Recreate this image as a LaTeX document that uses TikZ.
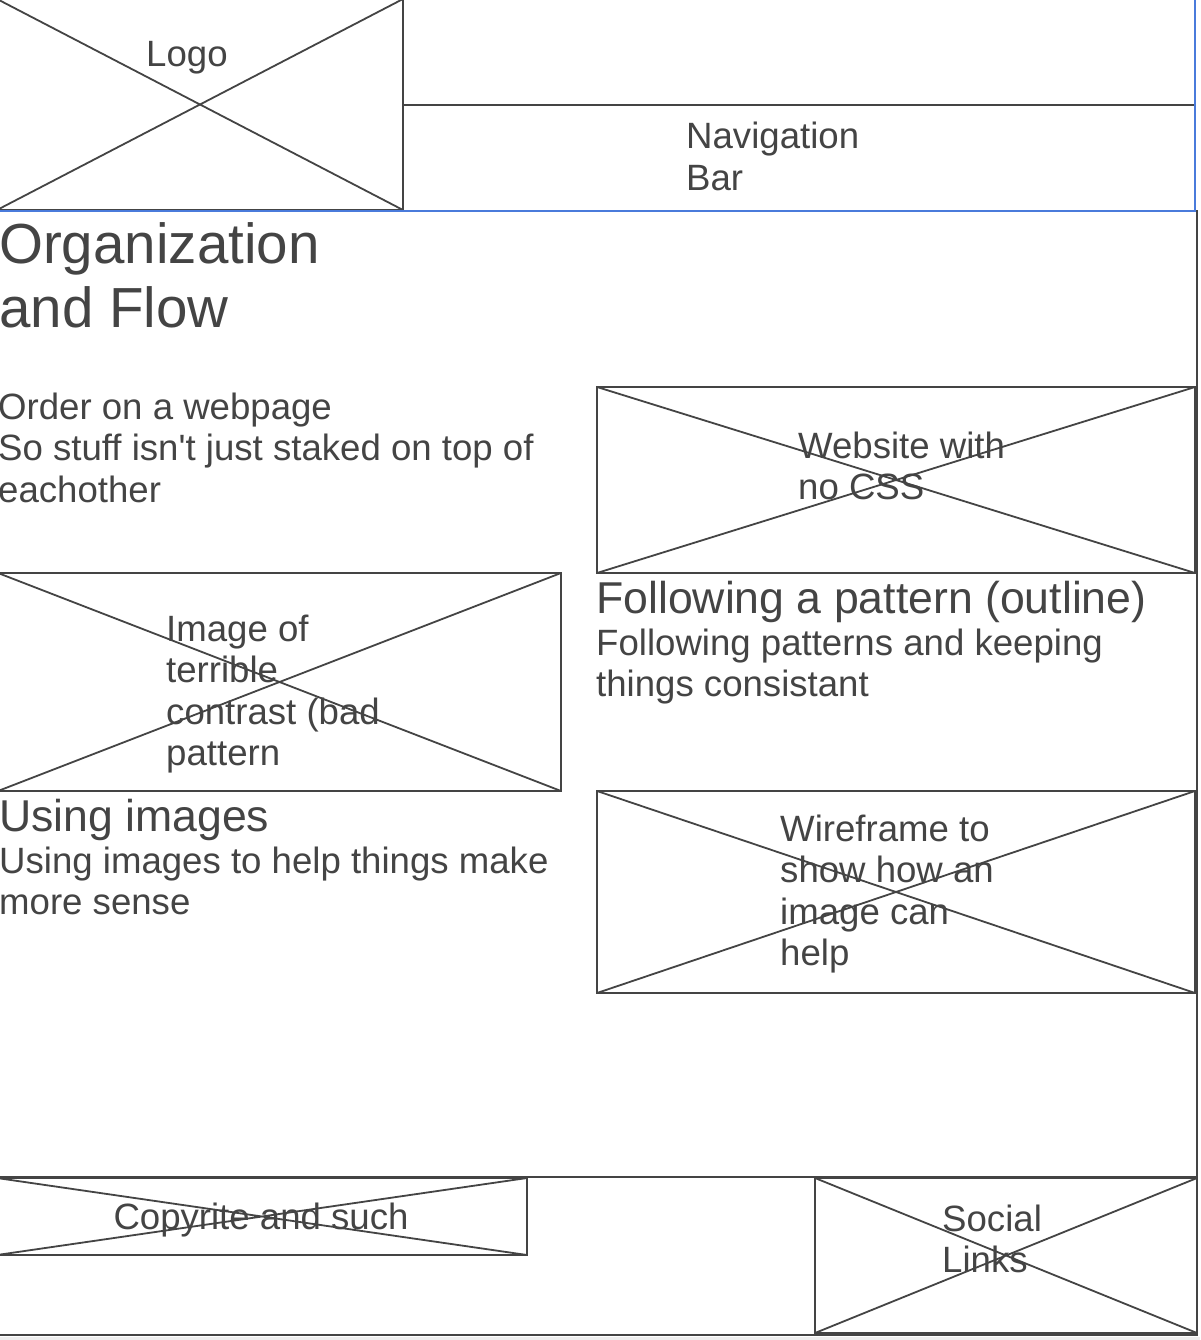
\documentclass[tikz,border=0pt]{standalone}
\usepackage{fontspec}
\setmainfont{Liberation Sans}
\definecolor{ink}{HTML}{444444}
\definecolor{sel}{HTML}{4A7BDB}
\definecolor{strip}{HTML}{EEEEEE}
\begin{document}
\begin{tikzpicture}[x=1pt,y=-1pt,
  box/.style={draw=ink, line width=2pt, rectangle, inner sep=0pt, outer sep=0pt, anchor=north west},
  selbox/.style={box, draw=sel},
  cross/.style={draw=ink, line width=1.8pt},
  body/.style={text=ink, inner sep=0pt, anchor=base west, align=left, font=\fontsize{36.6}{41.5}\selectfont},
  head/.style={body, font=\fontsize{44.6}{52}\selectfont},
  title/.style={body, font=\fontsize{56.5}{64}\selectfont},
]
\useasboundingbox (0,0) rectangle (1200,1340);
\clip (0,0) rectangle (1200,1340);
\fill[white] (0,0) rectangle (1200,1340);
\fill[strip] (0,1337) rectangle (1200,1340);
% page and footer
\node[box, minimum width=1201pt, minimum height=1124pt] (page) at (-4,211) {};
\node[box, minimum width=1201pt, minimum height=158pt] (footer) at (-4,1177) {};
% header
\node[box, minimum width=406pt, minimum height=211pt] (logo) at (-3,-1) {};
\draw[cross] (logo.north west) -- (logo.south east) (logo.north east) -- (logo.south west);
\node[box, minimum width=792pt, minimum height=106pt] (nav) at (403,105) {};
% content boxes
\node[box, minimum width=598pt, minimum height=186pt] (web) at (597,387) {};
\draw[cross] (web.north west) -- (web.south east) (web.north east) -- (web.south west);
\node[box, minimum width=563pt, minimum height=218pt] (img) at (-2,573) {};
\draw[cross] (img.north west) -- (img.south east) (img.north east) -- (img.south west);
\node[box, minimum width=598pt, minimum height=202pt] (wire) at (597,791) {};
\draw[cross] (wire.north west) -- (wire.south east) (wire.north east) -- (wire.south west);
% footer boxes
\node[box, minimum width=530pt, minimum height=77pt] (copy) at (-3,1178) {};
\draw[cross] (copy.north west) -- (copy.south east) (copy.north east) -- (copy.south west);
\node[box, minimum width=382pt, minimum height=155pt] (social) at (815,1178) {};
\draw[cross] (social.north west) -- (social.south east) (social.north east) -- (social.south west);
% selection outline
\node[selbox, minimum width=1200pt, minimum height=213pt] (sel) at (-5,-2) {};
% texts (multi-line nodes are placed at the baseline of their last line)
\node[body] (logot) at (146,67) {Logo};
\node[body] (navt) at (686,190.5) {Navigation\\Bar};
\node[title] (orgt) at (-1,327) {Organization\\and Flow};
\node[body] (ordt) at (-2,502) {Order on a webpage\\So stuff isn\textquotesingle t just staked on top of\\eachother};
\node[body] (webt) at (798,499.5) {Website with\\no CSS};
\node[head] (patth) at (596,613) {Following a pattern (outline)};
\node[body] (pattt) at (596,696.5) {Following patterns and keeping\\things consistant};
\node[body] (imgt) at (166,765.5) {Image of\\terrible\\contrast (bad\\pattern};
\node[head] (usingh) at (-1,831) {Using images};
\node[body] (usingt) at (-1,914.5) {Using images to help things make\\more sense};
\node[body] (wiret) at (780,965.5) {Wireframe to\\show how an\\image can\\help};
\node[body, anchor=base] (copyt) at (261,1229) {Copyrite and such};
\node[body] (sociat) at (942,1272.5) {Social\\Links};
\end{tikzpicture}
\end{document}
